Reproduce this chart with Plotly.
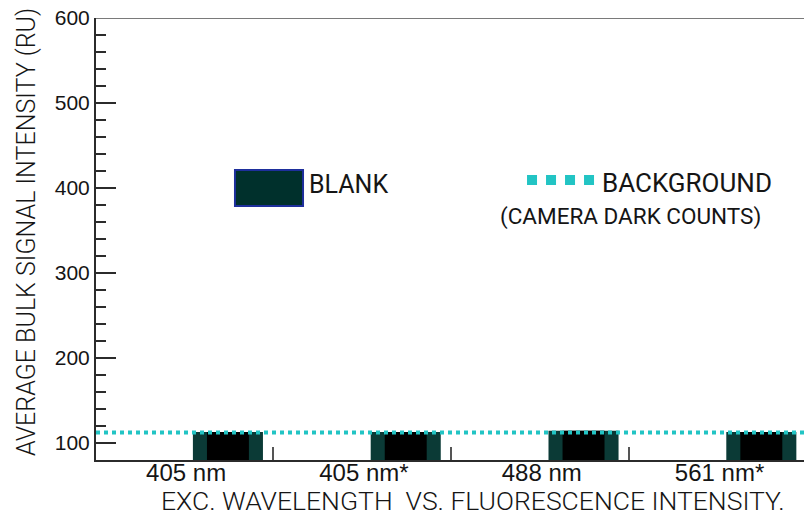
import plotly.graph_objects as go

# --- data -------------------------------------------------------------
categories = ["405 nm", "405 nm*", "488 nm", "561 nm*"]
blank_signal = [113, 113, 114.5, 113]      # average bulk signal of blank (RU)
background_level = 112.5                   # camera dark counts (RU)
y_ticks = [100, 200, 300, 400, 500, 600]

# --- styling ----------------------------------------------------------
TEAL_DARK = "#0b3a36"
DOT_TEAL = "#22c4c4"
AXIS = "#2b2b2b"
TEXT = "#151515"
LABEL_SHIFT = -0.235     # category labels sit left of their bars
TICK_SHIFT = 0.253       # separator ticks sit right of each bar

x_pos = list(range(len(categories)))

fig = go.Figure()

# outer bar body
fig.add_trace(go.Bar(
    x=x_pos, y=blank_signal, width=0.394,
    marker=dict(color=TEAL_DARK, line=dict(width=0)),
    hoverinfo="skip", showlegend=False,
))
# dark core of each bar
fig.add_trace(go.Bar(
    x=x_pos, y=blank_signal, width=0.236,
    marker=dict(color="#000000", line=dict(width=0)),
    hoverinfo="skip", showlegend=False,
))

fig.update_layout(
    barmode="overlay",
    width=804, height=518,
    margin=dict(l=96, r=0, t=18, b=58),
    paper_bgcolor="white", plot_bgcolor="white",
    showlegend=False,
    xaxis=dict(
        range=[-0.742, 3.24],
        showgrid=False, zeroline=False,
        showline=True, linecolor=AXIS, linewidth=2,
        tickmode="array",
        tickvals=[i + LABEL_SHIFT for i in x_pos],
        ticktext=categories,
        ticks="inside", ticklen=0,
        ticklabelstandoff=-10,
        tickfont=dict(family="Liberation Sans", size=24, color=TEXT),
        minor=dict(
            tickmode="array",
            tickvals=[i + TICK_SHIFT for i in x_pos],
            ticks="inside", ticklen=13, tickwidth=2, tickcolor="#555555",
            showgrid=False,
        ),
    ),
    yaxis=dict(
        range=[80, 600],
        showgrid=False, zeroline=False,
        showline=True, linecolor=AXIS, linewidth=2,
        tickmode="array", tickvals=y_ticks,
        ticks="inside", ticklen=20, tickwidth=2, tickcolor=AXIS,
        tickfont=dict(family="Liberation Sans", size=21, color=TEXT),
        minor=dict(dtick=20, tick0=0, ticks="inside", ticklen=10,
                   tickwidth=2, tickcolor=AXIS, showgrid=False),
    ),
)

shapes = [
    # top frame line
    dict(type="line", xref="paper", yref="y", x0=0, x1=1, y0=600, y1=600,
         line=dict(color="#7a7a7a", width=2)),
    # background (camera dark counts) level
    dict(type="line", xref="paper", yref="y", x0=0, x1=1,
         y0=background_level, y1=background_level,
         line=dict(color=DOT_TEAL, width=4, dash="4px,4px")),
    # legend swatch: blank
    dict(type="rect", xref="paper", yref="paper",
         x0=0.1963, x1=0.2924, y0=0.5747, y1=0.6561,
         fillcolor="#00302c", line=dict(color="#1e2f9c", width=2)),
    # legend swatch: background
    dict(type="line", xref="paper", yref="paper",
         x0=0.6088, x1=0.7048, y0=0.6335, y1=0.6335,
         line=dict(color=DOT_TEAL, width=10, dash="10px,9px")),
]
fig.update_layout(shapes=shapes)

roboto = dict(family="Roboto", color=TEXT)
annotations = [
    dict(text="BLANK", x=0.298, y=0.6244, xanchor="left", yanchor="middle",
         font=dict(size=25, **roboto)),
    dict(text="BACKGROUND", x=0.7118, y=0.6267, xanchor="left", yanchor="middle",
         font=dict(size=26, **roboto)),
    dict(text="(CAMERA DARK COUNTS)", x=0.5678, y=0.5498, xanchor="left",
         yanchor="middle", font=dict(size=22.5, **roboto)),
    dict(text="AVERAGE BULK SIGNAL INTENSITY (RU)", x=-0.0975, y=0.516,
         textangle=-90, xanchor="center", yanchor="middle",
         font=dict(size=25, weight=300, **roboto)),
    dict(text="EXC. WAVELENGTH\u00a0\u00a0VS. FLUORESCENCE INTENSITY.",
         x=0.533, y=-0.0905, xanchor="center", yanchor="middle",
         font=dict(size=26.5, weight=300, **roboto)),
]
for a in annotations:
    a.update(xref="paper", yref="paper", showarrow=False)
fig.update_layout(annotations=annotations)

fig.write_html("out.html")
